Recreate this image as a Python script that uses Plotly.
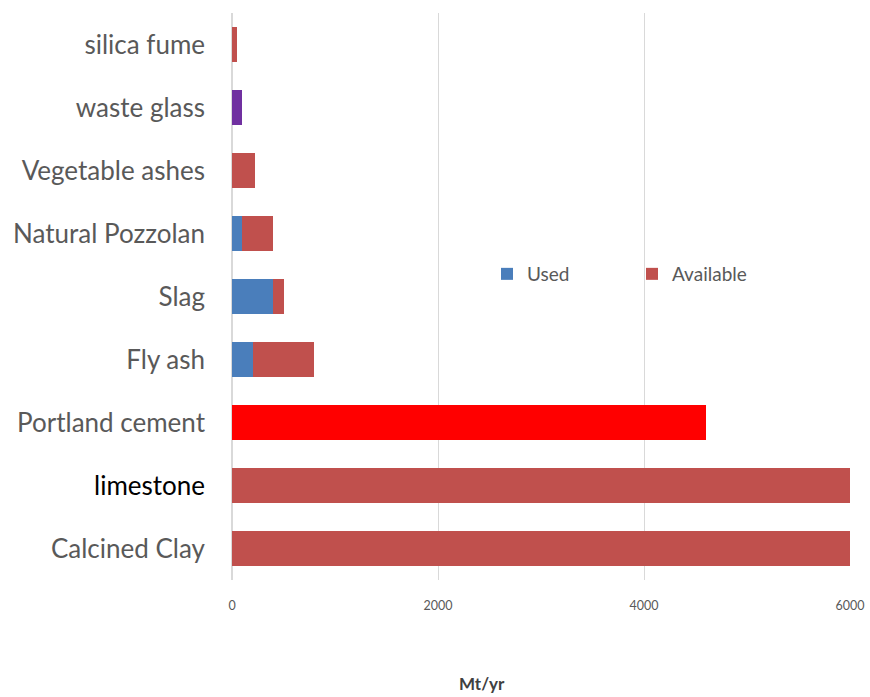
import plotly.graph_objects as go

categories = ["Calcined Clay", "limestone", "Portland cement", "Fly ash", "Slag",
              "Natural Pozzolan", "Vegetable ashes", "waste glass", "silica fume"]
used = [0, 0, 0, 200, 400, 100, 0, 0, 0]
available = [6000, 6000, 4600, 600, 100, 300, 220, 100, 50]
avail_colors = ["#C0504D", "#C0504D", "#FF0000", "#C0504D", "#C0504D",
                "#C0504D", "#C0504D", "#7030A0", "#C0504D"]
x_ticks = [0, 2000, 4000, 6000]

label_colors = ["#000000" if c == "limestone" else "#595959" for c in categories]
ticktext = [f'<span style="color:{col}">{c}</span>' for c, col in zip(categories, label_colors)]

fig = go.Figure()
fig.add_trace(go.Bar(y=categories, x=used, orientation="h", name="Used",
                     marker=dict(color="#4A7EBB", line=dict(width=0))))
fig.add_trace(go.Bar(y=categories, x=available, orientation="h", name="Available",
                     marker=dict(color=avail_colors, line=dict(width=0))))

W, H = 870, 697
L, R, T, B = 232, 20, 13, 117
pw, ph = W - L - R, H - T - B

fig.update_layout(
    width=W, height=H, barmode="stack", bargap=0.46,
    paper_bgcolor="white", plot_bgcolor="white",
    margin=dict(l=L, r=R, t=T, b=B, autoexpand=False),
    font=dict(family="Lato, Open Sans, sans-serif", color="#595959"),
    legend=dict(orientation="h", x=(487 - L) / pw, y=(H - B - 274) / ph,
                xanchor="left", yanchor="middle", entrywidth=100, entrywidthmode="pixels",
                font=dict(size=19, color="#595959"), bgcolor="rgba(0,0,0,0)",
                itemwidth=30, traceorder="normal"),
    xaxis=dict(range=[0, 6000], tickvals=x_ticks, showgrid=True, gridcolor="#D9D9D9",
               gridwidth=1, zeroline=True, zerolinecolor="#D9D9D9", showline=False,
               tickfont=dict(size=12.5, color="#595959"), ticks="", ticklabelstandoff=16),
    yaxis=dict(tickvals=categories, ticktext=ticktext, showgrid=False,
               tickfont=dict(size=26, color="#595959"), ticks="", ticklabelstandoff=26,
               range=[-0.5, 8.5]),
    annotations=[dict(text="<b>Mt/yr</b>", x=(482 - L) / pw, y=(H - B - 683) / ph,
                      xref="paper", yref="paper", showarrow=False,
                      font=dict(size=17, color="#404040"), xanchor="center", yanchor="middle")],
)

fig.write_html("out.html")
